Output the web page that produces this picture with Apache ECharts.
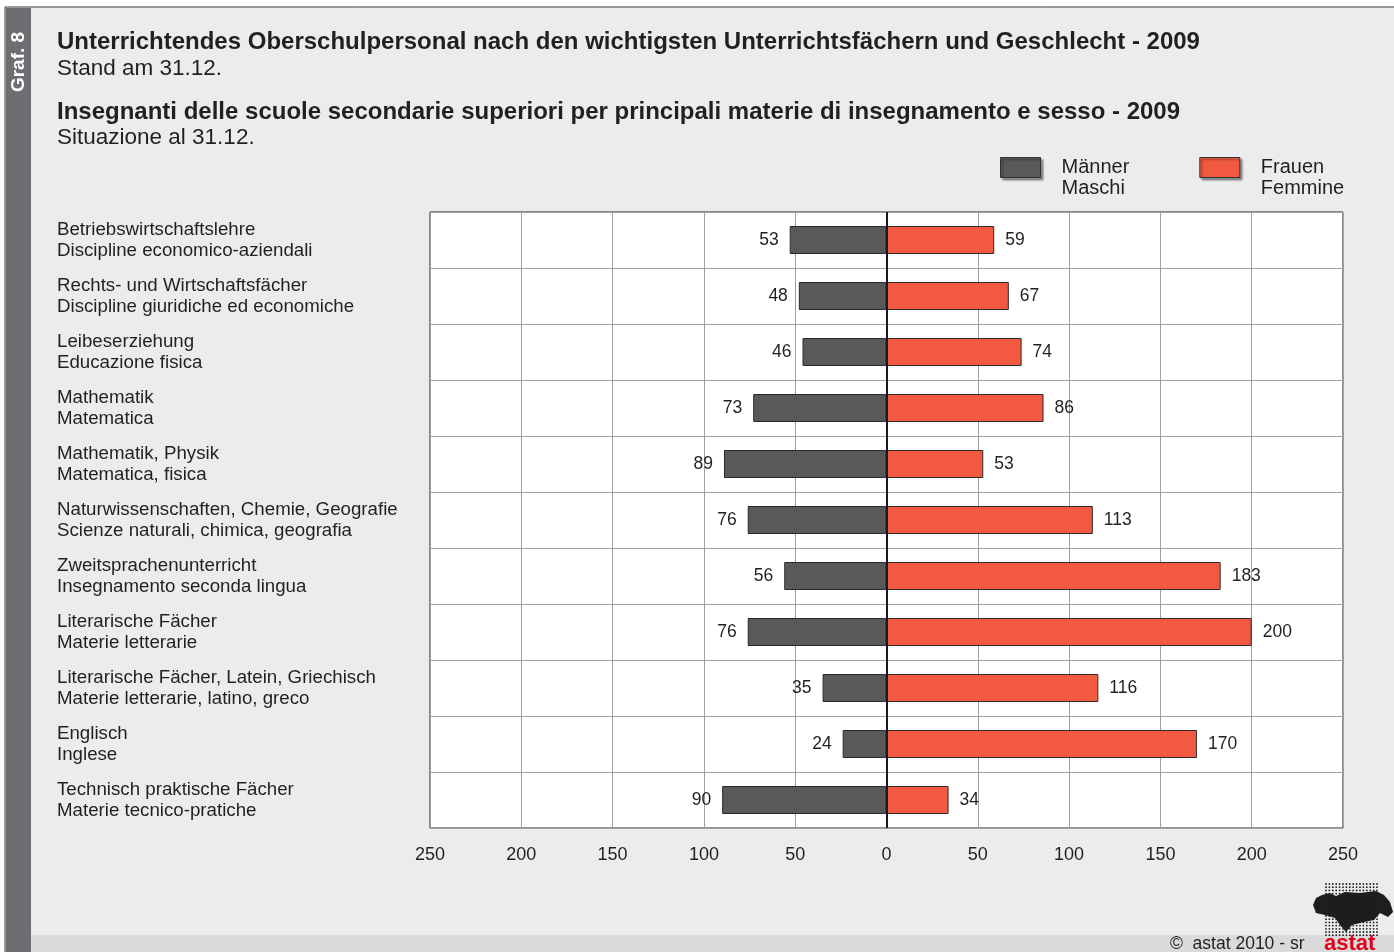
<!DOCTYPE html>
<html>
<head>
<meta charset="utf-8">
<script src="https://cdn.jsdelivr.net/npm/echarts@6/dist/echarts.min.js"></script>
<style>
html,body{margin:0;padding:0;background:#fff;}
#c{width:1394px;height:952px;}
</style>
</head>
<body>
<div id="c"></div>
<script>
const categoriesDe = ["Betriebswirtschaftslehre","Rechts- und Wirtschaftsfächer","Leibeserziehung","Mathematik","Mathematik, Physik","Naturwissenschaften, Chemie, Geografie","Zweitsprachenunterricht","Literarische Fächer","Literarische Fächer, Latein, Griechisch","Englisch","Technisch praktische Fächer"];
const categoriesIt = ["Discipline economico-aziendali","Discipline giuridiche ed economiche","Educazione fisica","Matematica","Matematica, fisica","Scienze naturali, chimica, geografia","Insegnamento seconda lingua","Materie letterarie","Materie letterarie, latino, greco","Inglese","Materie tecnico-pratiche"];
const men = [53,48,46,73,89,76,56,76,35,24,90];
const women = [59,67,74,86,53,113,183,200,116,170,34];
const seriesNames = ["Männer\nMaschi","Frauen\nFemmine"];

const categories = categoriesDe.map((d,i)=>d+"\n"+categoriesIt[i]);
const chart = echarts.init(document.getElementById('c'));
const font = "'Liberation Sans', Arial, Helvetica, sans-serif";
const txt = "#231f20";

// decorative logo: dotted map
const logo = [];
logo.push({type:'polygon', shape:{points:[[1322,895],[1330,893],[1336,896],[1345,892],[1360,893],[1376,891],[1384,895],[1390,902],[1393,912],[1388,917],[1380,913],[1374,920],[1364,922],[1352,925],[1346,932],[1340,925],[1335,918],[1325,915],[1316,913],[1313,905],[1316,898]]}, style:{fill:'#1e1e1e'}});
for (let yy = 884; yy <= 936; yy += 3.2) {
  for (let xx = 1326; xx <= 1379; xx += 3.4) {
    logo.push({type:'circle', shape:{cx:xx, cy:yy, r:0.9}, style:{fill:'#1e1e1e'}});
  }
}

chart.setOption({
  backgroundColor: "#ffffff",
  textStyle:{fontFamily:font},
  animation:false,
  graphic:[
    {type:'rect', z:-10, shape:{x:5,y:7,width:1400,height:960}, style:{fill:'#ebeced', stroke:'#3a3a3a', lineWidth:1}},
    {type:'rect', z:-9, shape:{x:6,y:8,width:25,height:950}, style:{fill:'#6d6e71'}},
    {type:'rect', z:-9, shape:{x:31,y:935,width:1370,height:20}, style:{fill:'#d9dadb'}},
    {type:'text', x:19, y:62, rotation:Math.PI/2, style:{text:'Graf. 8', fill:'#ffffff', font:'bold 19px '+font, align:'center', verticalAlign:'middle'}},
    {type:'text', left:57, top:30, style:{text:'Unterrichtendes Oberschulpersonal nach den wichtigsten Unterrichtsfächern und Geschlecht - 2009', fill:txt, font:'bold 24px '+font}},
    {type:'text', left:57, top:57, style:{text:'Stand am 31.12.', fill:txt, font:'22.5px '+font}},
    {type:'text', left:57, top:100, style:{text:'Insegnanti delle scuole secondarie superiori per principali materie di insegnamento e sesso - 2009', fill:txt, font:'bold 24px '+font}},
    {type:'text', left:57, top:126, style:{text:'Situazione al 31.12.', fill:txt, font:'22.5px '+font}},
    {type:'text', left:1170, top:935, style:{text:'\u00A9  astat 2010 - sr', fill:txt, font:'17.5px '+font}},
    {type:'group', children:logo},
    {type:'text', left:1324, top:933, style:{text:'astat', fill:'#e3001b', font:'bold 22px '+font}}
  ],
  legend:{
    left:1000, top:136, padding:0,
    itemWidth:40, itemHeight:20, itemGap:70,
    icon:'rect',
    data:seriesNames,
    formatter: n => '\n' + n,
    textStyle:{fontSize:20, color:txt, lineHeight:21, padding:[0,0,0,16], fontFamily:font},
    itemStyle:{borderColor:'#333', borderWidth:1, shadowBlur:2, shadowColor:'rgba(0,0,0,0.4)', shadowOffsetX:2, shadowOffsetY:2},
    selectedMode:false
  },
  grid:{left:430, right:51, top:212, bottom:124, show:true, backgroundColor:'#ffffff', borderColor:'#231f20', borderWidth:1},
  xAxis:{
    type:'value', min:-250, max:250, interval:50,
    axisLine:{show:false}, axisTick:{show:false},
    axisLabel:{margin:18, fontSize:18, color:txt, formatter:v=>Math.abs(v)},
    splitLine:{show:true, lineStyle:{color:'#9d9fa2', width:1}}
  },
  yAxis:{
    type:'category', inverse:true, data:categories,
    axisLine:{show:false}, axisTick:{show:false},
    axisLabel:{align:'left', margin:373, fontSize:18.7, lineHeight:21, color:txt},
    splitLine:{show:true, lineStyle:{color:'#9d9fa2', width:1}}
  },
  series:[
    {name:seriesNames[0], type:'bar', stack:'a', barWidth:28,
     data:men.map(v=>-v),
     itemStyle:{color:'#58595b', borderColor:'#2b2b2b', borderWidth:1},
     label:{show:true, position:'left', distance:11, fontSize:17.5, color:txt, formatter:p=>Math.abs(p.value)},
     markLine:{silent:true, symbol:'none', label:{show:false}, lineStyle:{color:'#1a1a1a', type:'solid', width:2}, data:[{xAxis:0}]}
    },
    {name:seriesNames[1], type:'bar', stack:'a', barWidth:28,
     data:women,
     itemStyle:{color:'#f15a40', borderColor:'#2b2b2b', borderWidth:1},
     label:{show:true, position:'right', distance:11, fontSize:17.5, color:txt}
    }
  ]
});
</script>
</body>
</html>
